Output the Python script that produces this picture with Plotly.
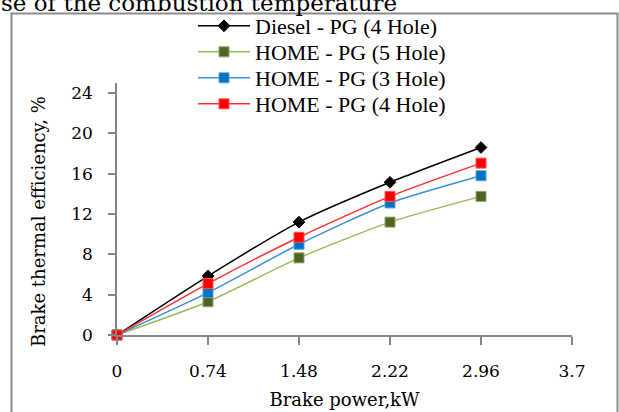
import plotly.graph_objects as go

brake_power = [0, 0.74, 1.48, 2.22, 2.96]
diesel_pg4 = [0, 5.85, 11.2, 15.15, 18.6]
home_pg5 = [0, 3.3, 7.65, 11.2, 13.75]
home_pg3 = [0, 4.2, 9.0, 13.1, 15.8]
home_pg4 = [0, 5.1, 9.7, 13.75, 17.05]

x_tickvals = [0, 0.74, 1.48, 2.22, 2.96, 3.7]
x_ticktext = ["0", "0.74", "1.48", "2.22", "2.96", "3.7"]
y_tickvals = [0, 4, 8, 12, 16, 20, 24]

LEG_FONT = "Liberation Serif"
AX_FONT = "DejaVu Serif"

W, H = 619, 412
L, R, T, B = 117, 47, 83, 77
pw, ph = W - L - R, H - T - B

def px(x):
    return (x - L) / pw

def py(y):
    return (H - B - y) / ph

fig = go.Figure()
series = [
    ("Diesel - PG (4 Hole)", diesel_pg4, "#000000", "#000000", "#000000", "diamond", 9),
    ("HOME - PG (5 Hole)", home_pg5, "#9BBB59", "#4F6228", "#8FA85A", "square", 10),
    ("HOME - PG (3 Hole)", home_pg3, "#3C8FD9", "#0070C0", "#5AA0E0", "square", 10),
    ("HOME - PG (4 Hole)", home_pg4, "#FF3030", "#FF0000", "#FF5050", "square", 10),
]
legend_rows = [26, 52, 78, 104]
legend_ids = ["legend", "legend2", "legend3", "legend4"]
for (name, vals, lc, mc, mlc, sym, ms), lid in zip(series, legend_ids):
    fig.add_trace(go.Scatter(
        x=brake_power, y=vals, name=name, mode="lines+markers",
        line=dict(color=lc, width=1.5, shape="spline", smoothing=0.6),
        marker=dict(symbol=sym, size=ms, color=mc, line=dict(color=mlc, width=1)),
        cliponaxis=False, legend=lid,
    ))

legend_layout = {}
for lid, row in zip(legend_ids, legend_rows):
    legend_layout[lid] = dict(
        x=px(193), y=py(row), xanchor="left", yanchor="middle",
        font=dict(family=LEG_FONT, size=22, color="#000000"),
        bgcolor="rgba(0,0,0,0)", itemwidth=52, borderwidth=0,
    )

fig.update_layout(
    width=W, height=H,
    margin=dict(l=L, r=R, t=T, b=B, autoexpand=False),
    paper_bgcolor="white", plot_bgcolor="white",
    font=dict(family=AX_FONT, color="#000000"),
    showlegend=True,
    xaxis=dict(
        range=[0, 3.7], tickvals=x_tickvals, ticktext=x_ticktext,
        showgrid=False, zeroline=False, showline=True,
        linecolor="#868686", linewidth=1.5,
        ticks="outside", ticklen=8, tickcolor="#868686", tickwidth=1.5,
        tickfont=dict(family=AX_FONT, size=17, color="#000000"),
        ticklabelstandoff=12,
        title=dict(text="Brake power,kW", font=dict(family=AX_FONT, size=18), standoff=13),
        automargin=False,
    ),
    yaxis=dict(
        range=[0, 25], tickvals=y_tickvals,
        showgrid=False, zeroline=False, showline=True,
        linecolor="#868686", linewidth=1.5,
        ticks="outside", ticklen=7, tickcolor="#868686", tickwidth=1.5,
        tickfont=dict(family=AX_FONT, size=17, color="#000000"),
        ticklabelstandoff=12,
        automargin=False,
    ),
    shapes=[dict(
        type="rect", xref="paper", yref="paper",
        x0=px(11.5), x1=px(617.5), y0=py(430), y1=py(13.5),
        line=dict(color="#8C8C8C", width=2), fillcolor="rgba(0,0,0,0)", layer="below",
    )],
    annotations=[
        dict(
            text="se of the combustion temperature", xref="paper", yref="paper",
            x=px(-1), y=py(18), xanchor="left", yanchor="bottom",
            showarrow=False, font=dict(family=AX_FONT, size=23, color="#000000"),
        ),
        dict(
            text="Brake thermal efficiency, %", xref="paper", yref="paper",
            x=px(38), y=py(222), xanchor="center", yanchor="middle", textangle=-90,
            showarrow=False, font=dict(family=AX_FONT, size=18, color="#000000"),
        ),
    ],
    **legend_layout,
)

fig.write_html("out.html", post_script="document.body.style.margin='0';",
               config={"displayModeBar": False})
